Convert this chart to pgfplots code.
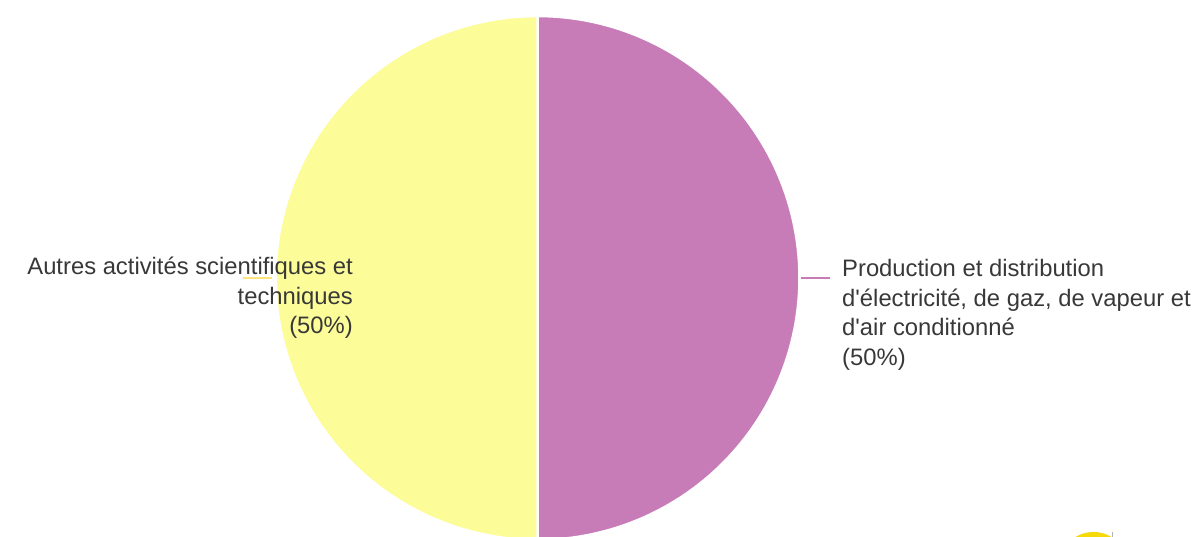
\documentclass[border=0pt]{standalone}
\usepackage{pgfplots}
\pgfplotsset{compat=1.18}
\usepackage{fontspec}
\setmainfont{Liberation Sans}[Ligatures=TeXOff]
\definecolor{purp}{HTML}{C77CB8}
\definecolor{yell}{HTML}{FCFC99}
\definecolor{txt}{HTML}{383838}
\definecolor{gold}{HTML}{F5D90A}
% shares (percent)
\def\shareA{50} % Production et distribution d'électricité...
\def\shareB{50} % Autres activités scientifiques et techniques
\begin{document}
\begin{tikzpicture}
\begin{axis}[scale only axis, width=1200pt, height=537pt,
  xmin=0, xmax=1200, ymin=0, ymax=537, hide axis, clip=true]
\pgfmathsetmacro{\angA}{90-3.6*\shareA}
\pgfmathsetmacro{\angB}{\angA-3.6*\shareB}
% purple slice
\addplot[fill=purp, draw=white, line width=2.5pt, domain=90:\angA, samples=120, variable=\t]
  ({537.5+262*cos(\t)}, {259+262*sin(\t)}) -- (axis cs:537.5,259) -- cycle;
% yellow slice
\addplot[fill=yell, draw=white, line width=2.5pt, domain=\angA:\angB, samples=120, variable=\t]
  ({537.5+262*cos(\t)}, {259+262*sin(\t)}) -- (axis cs:537.5,259) -- cycle;
% leader lines
\draw[purp, line width=1.8pt] (axis cs:801,259) -- (axis cs:830,259);
\draw[yell!80!orange, line width=1.5pt] (axis cs:272,259) -- (axis cs:243,259);
% partial element bottom right
\fill[gold] (axis cs:1093.5,-30) circle[radius=35];
\draw[gray!60, line width=1pt] (axis cs:1112.5,0) -- (axis cs:1112.5,5);
% labels
\begin{scope}[every node/.style={font=\fontsize{23.8}{29.5}\selectfont, text=txt, inner sep=0pt}]
\node[anchor=base west] at (axis cs:842,260) {Production et distribution};
\node[anchor=base west] at (axis cs:842,230.5) {d'électricité, de gaz, de vapeur et};
\node[anchor=base west] at (axis cs:842,201) {d'air conditionné};
\node[anchor=base west] at (axis cs:842,171.5) {(50\%)};
\node[anchor=base east] at (axis cs:353,262) {Autres activités scientifiques et};
\node[anchor=base east] at (axis cs:353,232.5) {techniques};
\node[anchor=base east] at (axis cs:353,203) {(50\%)};
\end{scope}
\end{axis}
\pgfresetboundingbox
\path[use as bounding box] (current axis.south west) rectangle (current axis.north east);
\end{tikzpicture}
\end{document}
